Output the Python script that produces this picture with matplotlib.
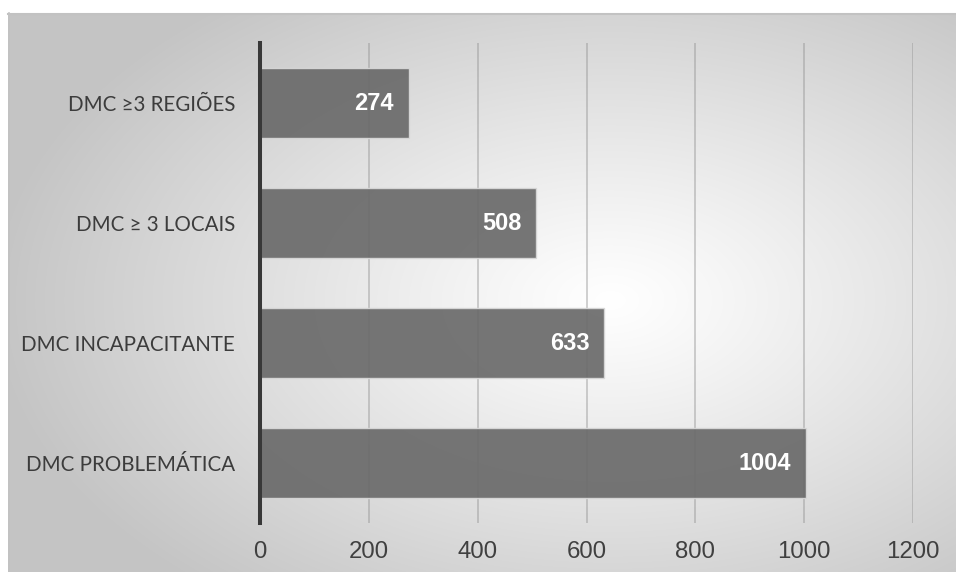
import numpy as np
import matplotlib
matplotlib.use("Agg")
import matplotlib.pyplot as plt
from matplotlib.lines import Line2D

categories = ["DMC ≥3 REGIÕES", "DMC ≥ 3 LOCAIS", "DMC INCAPACITANTE", "DMC PROBLEMÁTICA"]
values = [274, 508, 633, 1004]
xticks = [0, 200, 400, 600, 800, 1000, 1200]

W, H = 956, 572
fig = plt.figure(figsize=(W / 100, H / 100), dpi=100)
fig.patch.set_facecolor("white")

# radial gradient background panel
bg = fig.add_axes([8 / W, 0, (W - 8) / W, (H - 13) / H], zorder=-10)
ny, nx = 559, 948
yy, xx = np.mgrid[0:ny, 0:nx]
cx, cy = 610 - 8, 300 - 13
t = np.sqrt(((xx - cx) / 620.0) ** 2 + ((yy - cy) / 380.0) ** 2)
t = np.clip(t, 0, 1)
g = 1.0 - 0.23 * t ** 1.1
img = np.dstack([g, g, g])
bg.imshow(img, aspect="auto", extent=[0, 1, 0, 1], interpolation="bilinear")
bg.set_axis_off()

# border of chart area
fig.add_artist(Line2D([8 / W, 1], [(H - 13.5) / H] * 2, color="#c2c2c2", lw=1.5, transform=fig.transFigure))
fig.add_artist(Line2D([8.5 / W] * 2, [0, (H - 13) / H], color="#c2c2c2", lw=1.2, transform=fig.transFigure))

ax = fig.add_axes([260 / W, (H - 523) / H, (913 - 260) / W, 480 / H])
ax.patch.set_alpha(0)
pos = np.arange(len(categories))
for x in xticks[1:]:
    ax.axvline(x, color="#909090", alpha=0.45, lw=1.3, zorder=1)
bars = ax.barh(pos, values, height=0.59, color="#6a6a6a", alpha=0.92,
               edgecolor="#d8d8d8", linewidth=1.0, zorder=2)
ax.set_xlim(0, 1200)
ax.set_ylim(3.5, -0.5)
ax.set_xticks(xticks)
ax.set_xticklabels([str(v) for v in xticks], fontsize=17.3, color="#404040",
                   family=["Liberation Sans", "DejaVu Sans"])
ax.set_yticks(pos)
ax.set_yticklabels(categories, fontsize=14.8, color="#3c3c3c", family=["Lato", "DejaVu Sans"])
ax.tick_params(axis="both", length=0)
ax.tick_params(axis="y", pad=18)
ax.tick_params(axis="x", pad=13)
for s in ["top", "right", "bottom"]:
    ax.spines[s].set_visible(False)
ax.spines["left"].set_color("#383838")
ax.spines["left"].set_linewidth(2.9)
ax.spines["left"].set_zorder(5)

for p, v in zip(pos, values):
    ax.annotate(str(v), xy=(v, p), xytext=(-15, -1), textcoords="offset pixels",
                ha="right", va="center", color="white", fontweight="bold",
                fontsize=17, family=["Liberation Sans", "DejaVu Sans"], zorder=6)

fig.savefig("out.png", dpi=100, facecolor=fig.get_facecolor())
